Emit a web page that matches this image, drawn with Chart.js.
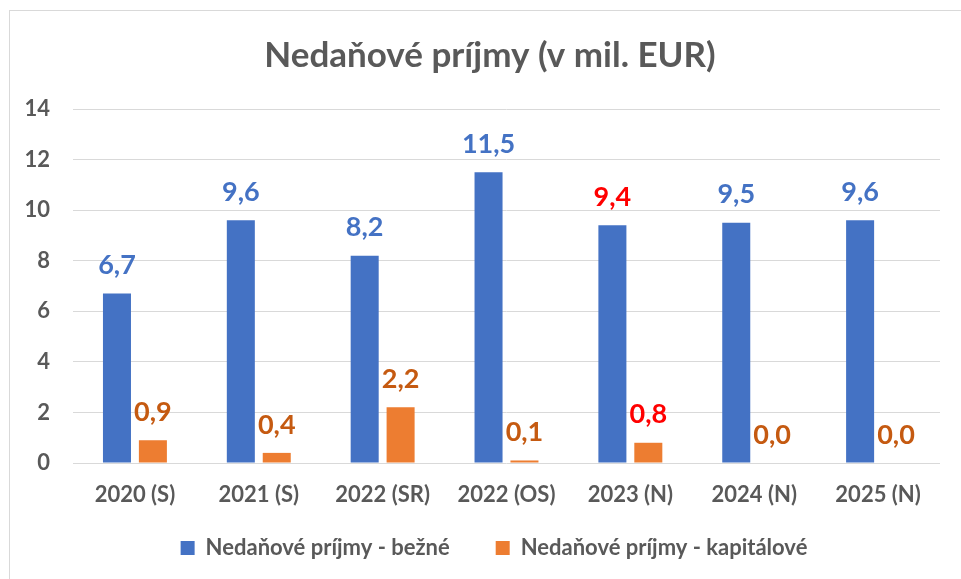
<!DOCTYPE html>
<html>
<head>
<meta charset="utf-8">
<script src="https://cdn.jsdelivr.net/npm/chart.js@4/dist/chart.umd.min.js"></script>
<style>
    body { margin: 0; background: #fff; }
    #wrap { position: relative; width: 961px; height: 579px; }
    #frame { position: absolute; left: 9px; top: 10px; width: 970px; height: 600px; border: 1px solid #d9d9d9; box-sizing: border-box; }
    canvas { position: absolute; left: 0; top: 0; }
</style>
</head>
<body>
<div id="wrap">
    <div id="frame"></div>
    <canvas id="chart" width="961" height="579"></canvas>
</div>
<script>
// chart values
var categories = ['2020 (S)', '2021 (S)', '2022 (SR)', '2022 (OS)', '2023 (N)', '2024 (N)', '2025 (N)'];
var seriesNames = ['Nedaňové príjmy - bežné', 'Nedaňové príjmy - kapitálové'];
var bezne = [6.7, 9.6, 8.2, 11.5, 9.4, 9.5, 9.6];
var kapitalove = [0.9, 0.4, 2.2, 0.1, 0.8, 0.0, 0.0];
var yTicks = [0, 2, 4, 6, 8, 10, 12, 14];

var fontFamily = "Lato, 'Open Sans', sans-serif";
var textGray = '#595959';

// label colours: 2023 (N) labels are red in the original
var bezneLabelColors = ['#4472C4', '#4472C4', '#4472C4', '#4472C4', '#FF0000', '#4472C4', '#4472C4'];
var kapitaloveLabelColors = ['#C55A11', '#C55A11', '#C55A11', '#C55A11', '#FF0000', '#C55A11', '#C55A11'];

// simple inline data labels (no datalabels plugin available offline)
var valueLabels = {
    id: 'valueLabels',
    afterDatasetsDraw: function (chart) {
        var ctx = chart.ctx;
        ctx.save();
        ctx.font = 'bold 27px ' + fontFamily;
        ctx.textAlign = 'center';
        ctx.textBaseline = 'middle';
        chart.data.datasets.forEach(function (ds, di) {
            var meta = chart.getDatasetMeta(di);
            meta.data.forEach(function (bar, i) {
                ctx.fillStyle = ds.labelColors[i];
                var txt = ds.data[i].toFixed(1).replace('.', ',');
                ctx.fillText(txt, bar.x, bar.y - 28);
            });
        });
        ctx.restore();
    }
};

// nudge title / legend boxes like in the excel original
var nudgeBoxes = {
    id: 'nudgeBoxes',
    afterLayout: function (chart) {
        if (chart.titleBlock) {
            chart.titleBlock.left += 10;
            chart.titleBlock.right += 10;
        }
        if (chart.legend) {
            var h = chart.legend.height;
            chart.legend.top = 491;
            chart.legend.bottom = 491 + h;
            chart.legend.left += 14;
            chart.legend.right += 14;
        }
    }
};

var ctx = document.getElementById('chart').getContext('2d');
window.nedanoveChart = new Chart(ctx, {
    type: 'bar',
    data: {
        labels: categories,
        datasets: [
            {
                label: seriesNames[0],
                data: bezne,
                backgroundColor: '#4472C4',
                labelColors: bezneLabelColors,
                categoryPercentage: 0.58,
                barPercentage: 0.78
            },
            {
                label: seriesNames[1],
                data: kapitalove,
                backgroundColor: '#ED7D31',
                labelColors: kapitaloveLabelColors,
                categoryPercentage: 0.58,
                barPercentage: 0.78
            }
        ]
    },
    options: {
        responsive: false,
        animation: false,
        layout: {
            padding: {left: 20, right: 21, top: 0, bottom: -26}
        },
        plugins: {
            title: {
                display: true,
                text: 'Nedaňové príjmy (v mil. EUR)',
                color: textGray,
                font: {family: fontFamily, size: 35, weight: 'bold'},
                padding: {top: 35, bottom: 32}
            },
            legend: {
                position: 'bottom',
                labels: {
                    color: textGray,
                    font: {family: fontFamily, size: 22, weight: 'bold'},
                    boxWidth: 14,
                    boxHeight: 14,
                    padding: 46
                }
            },
            tooltip: {enabled: false}
        },
        scales: {
            x: {
                grid: {display: false, drawTicks: false},
                border: {display: false},
                ticks: {
                    color: textGray,
                    font: {family: fontFamily, size: 22, weight: 'bold'},
                    padding: 19
                },
                afterFit: function (scale) {
                    scale.height = 64;
                }
            },
            y: {
                min: 0,
                max: 14,
                afterBuildTicks: function (scale) {
                    scale.ticks = yTicks.map(function (v) { return {value: v}; });
                },
                grid: {color: '#d9d9d9', lineWidth: 1, drawTicks: false},
                border: {display: false},
                ticks: {
                    color: textGray,
                    font: {family: fontFamily, size: 22, weight: 'bold'},
                    padding: 23
                },
                afterFit: function (scale) {
                    scale.width = 53;
                }
            }
        }
    },
    plugins: [valueLabels, nudgeBoxes]
});
</script>
</body>
</html>
